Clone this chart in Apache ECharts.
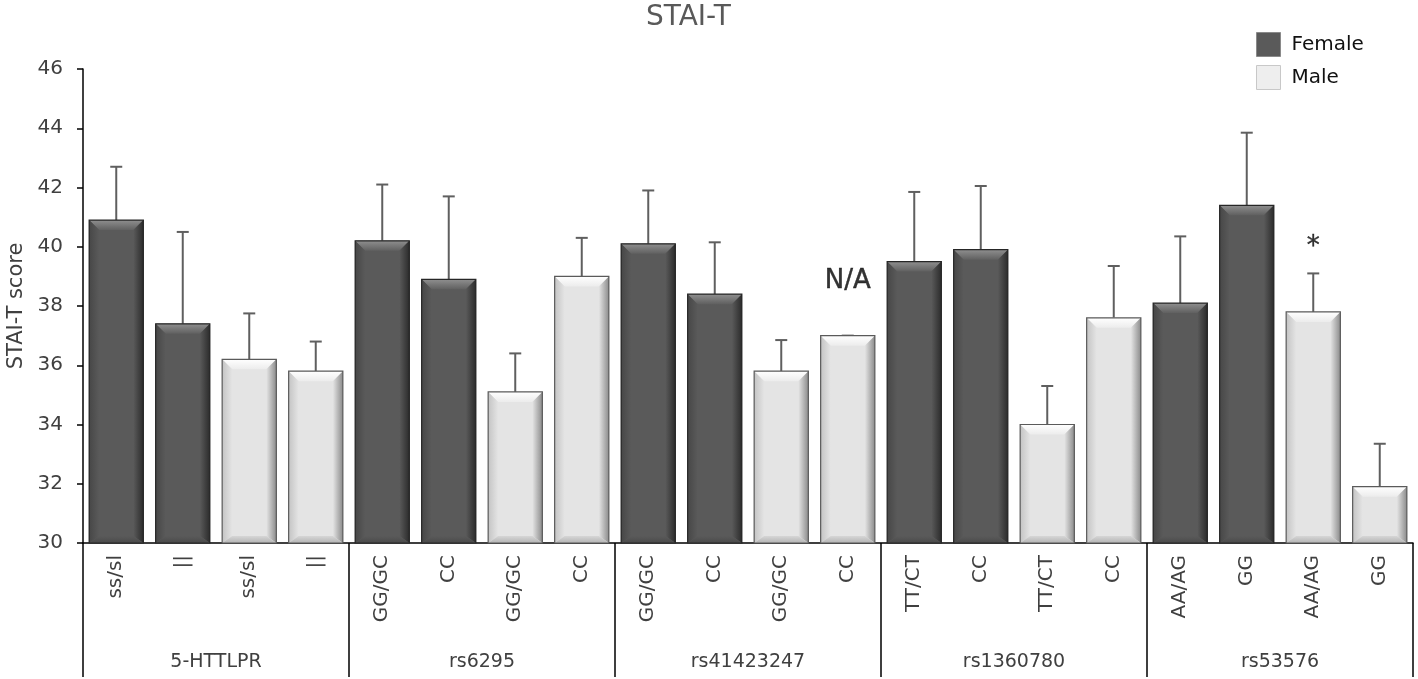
<!DOCTYPE html>
<html lang="en">
<head>
    <meta charset="UTF-8">
    <title>STAI-T</title>
    <script src="https://cdn.jsdelivr.net/npm/echarts@6.0.0/dist/echarts.min.js"></script>
    <style>
        html, body { margin: 0; padding: 0; background: #fff; }
    </style>
</head>
<body>
<div id="chart" style="width: 1418px;height:679px;"></div>
<script type="text/javascript">

    // genes (second row of the x axis), 4 bars each
    var genes = ['5-HTTLPR', 'rs6295', 'rs41423247', 'rs1360780', 'rs53576'];
    // genotype labels; '||' is the ditto mark, it shows as '=' once rotated
    var genotypes = ['ss/sl', '||', 'ss/sl', '||',
        'GG/GC', 'CC', 'GG/GC', 'CC',
        'GG/GC', 'CC', 'GG/GC', 'CC',
        'TT/CT', 'CC', 'TT/CT', 'CC',
        'AA/AG', 'GG', 'AA/AG', 'GG'];
    var sexes = ['Female', 'Female', 'Male', 'Male',
        'Female', 'Female', 'Male', 'Male',
        'Female', 'Female', 'Male', 'Male',
        'Female', 'Female', 'Male', 'Male',
        'Female', 'Female', 'Male', 'Male'];
    var means = [40.9, 37.4, 36.2, 35.8,
        40.2, 38.9, 35.1, 39.0,
        40.1, 38.4, 35.8, 37.0,
        39.5, 39.9, 34.0, 37.6,
        38.1, 41.4, 37.8, 31.9];
    var errors = [1.8, 3.1, 1.55, 1.0,
        1.9, 2.8, 1.3, 1.3,
        1.8, 1.75, 1.05, 0.0,
        2.35, 2.15, 1.3, 1.75,
        2.25, 2.45, 1.3, 1.45];
    // text notes over some bars: [bar index, y value, text]
    var notes = [[11, 38.85, 'N/A'], [18, 40.0, '*']];

    var palettes = {
        Female: {face: '#5a5a5a', edge: '#262626', top: ['#8f8f8f', '#606060'],
            left: ['#474747', '#5a5a5a'], right: ['#5a5a5a', '#2c2c2c'], bottom: ['#5a5a5a', '#4a4a4a']},
        Male: {face: '#e4e4e4', edge: '#5a5a5a', top: ['#ffffff', '#ececec'],
            left: ['#c4c4c4', '#e4e4e4'], right: ['#e4e4e4', '#8c8c8c'], bottom: ['#d6d6d6', '#b4b4b4']}
    };

    function grad(x2, y2, c) {
        return new echarts.graphic.LinearGradient(0, 0, x2, y2,
            [{offset: 0, color: c[0]}, {offset: 1, color: c[1]}]);
    }

    function barRenderer(sex) {
        var pal = palettes[sex];
        return function (params, api) {
            var top = api.coord([api.value(0), api.value(1)]);
            var base = api.coord([api.value(0), 30]);
            var w = api.size([1, 0])[0] * 0.815;
            var l = top[0] - w / 2, r = top[0] + w / 2, t = top[1], b = base[1];
            var bv = Math.min(10, (b - t) / 2);
            var bb = Math.min(7, (b - t) / 2);
            return {
                type: 'group',
                children: [
                    {type: 'rect', shape: {x: l, y: t, width: w, height: b - t},
                        style: {fill: pal.face}},
                    {type: 'polygon', shape: {points: [[l, t], [r, t], [r - bv, t + bv], [l + bv, t + bv]]},
                        style: {fill: grad(0, 1, pal.top)}},
                    {type: 'polygon', shape: {points: [[l, t], [l + bv, t + bv], [l + bv, b - bb], [l, b]]},
                        style: {fill: grad(1, 0, pal.left)}},
                    {type: 'polygon', shape: {points: [[r, t], [r, b], [r - bv, b - bb], [r - bv, t + bv]]},
                        style: {fill: grad(1, 0, pal.right)}},
                    {type: 'polygon', shape: {points: [[l, b], [l + bv, b - bb], [r - bv, b - bb], [r, b]]},
                        style: {fill: grad(0, 1, pal.bottom)}},
                    {type: 'rect', shape: {x: l, y: t, width: w, height: b - t},
                        style: {fill: null, stroke: pal.edge, lineWidth: 1.2}}
                ]
            };
        };
    }

    function errorRenderer(params, api) {
        var lo = api.coord([api.value(0), api.value(1)]);
        var hi = api.coord([api.value(0), api.value(2)]);
        var cap = 6;
        var st = {stroke: '#5f5f5f', lineWidth: 2};
        return {
            type: 'group',
            children: [
                {type: 'line', shape: {x1: lo[0], y1: lo[1], x2: hi[0], y2: hi[1]}, style: st},
                {type: 'line', shape: {x1: hi[0] - cap, y1: hi[1], x2: hi[0] + cap, y2: hi[1]}, style: st}
            ]
        };
    }

    var barData = {Female: [], Male: []};
    var errData = [];
    for (var i = 0; i < means.length; i++) {
        barData[sexes[i]].push([i, means[i]]);
        errData.push([i, means[i], means[i] + errors[i]]);
    }

    var font = '"DejaVu Sans", "Noto Sans", sans-serif';
    var myChart = echarts.init(document.getElementById('chart'));
    var option = {
        backgroundColor: '#fff',
        textStyle: {fontFamily: font},
        title: {
            text: 'STAI-T',
            left: 641,
            top: -1,
            textStyle: {fontSize: 28, fontWeight: 'normal', color: '#595959', fontFamily: font}
        },
        legend: {
            orient: 'vertical',
            left: 1251,
            top: 27,
            itemWidth: 24,
            itemHeight: 24,
            itemGap: 8,
            textStyle: {fontSize: 20, color: '#111', fontFamily: font, padding: [0, 0, 0, 6]},
            data: [
                {name: 'Female', icon: 'rect', itemStyle: {color: '#5a5a5a', borderColor: '#8a8a8a', borderWidth: 1}},
                {name: 'Male', icon: 'rect', itemStyle: {color: '#eeeeee', borderColor: '#c8c8c8', borderWidth: 1}}
            ]
        },
        grid: {left: 83, right: 5, top: 69, bottom: 136, containLabel: false, outerBoundsMode: 'none'},
        xAxis: [{
            type: 'category',
            data: genotypes,
            position: 'bottom',
            axisLine: {lineStyle: {color: '#000', width: 1.5}},
            axisTick: {show: false},
            axisLabel: {interval: 0, rotate: 90, margin: 12, fontSize: 20, color: '#404040'}
        }, {
            type: 'category',
            data: genes,
            position: 'bottom',
            axisLine: {show: false},
            axisTick: {show: true, length: 134, interval: 0, lineStyle: {color: '#000', width: 1.5}},
            axisLabel: {interval: 0, margin: 110, fontSize: 19, color: '#404040'}
        }],
        yAxis: {
            type: 'value',
            min: 30,
            max: 46,
            interval: 2,
            name: 'STAI-T score',
            nameLocation: 'middle',
            nameGap: 55,
            nameTextStyle: {fontSize: 21, color: '#404040'},
            axisLine: {show: true, lineStyle: {color: '#000', width: 1.5}},
            axisTick: {show: true, length: 6, lineStyle: {color: '#000', width: 1.5}},
            axisLabel: {fontSize: 20, color: '#404040', margin: 20},
            splitLine: {show: false}
        },
        series: [{
            name: 'Female',
            type: 'custom',
            renderItem: barRenderer('Female'),
            itemStyle: {color: '#5a5a5a'},
            encode: {x: 0, y: 1},
            data: barData.Female,
            z: 2
        }, {
            name: 'Male',
            type: 'custom',
            renderItem: barRenderer('Male'),
            itemStyle: {color: '#e4e4e4'},
            encode: {x: 0, y: 1},
            data: barData.Male,
            z: 2
        }, {
            name: 'error',
            type: 'custom',
            renderItem: errorRenderer,
            encode: {x: 0, y: [1, 2]},
            data: errData,
            z: 1
        }, {
            name: 'notes',
            type: 'scatter',
            symbolSize: 0,
            silent: true,
            data: notes,
            label: {
                show: true,
                position: 'inside',
                formatter: function (p) { return p.data[2]; },
                fontSize: 26,
                fontFamily: font,
                color: '#000',
                textBorderColor: '#000',
                textBorderWidth: 0.4
            },
            emphasis: {disabled: true},
            z: 3
        }]
    };

    myChart.setOption(option);
</script>
</body>
</html>
